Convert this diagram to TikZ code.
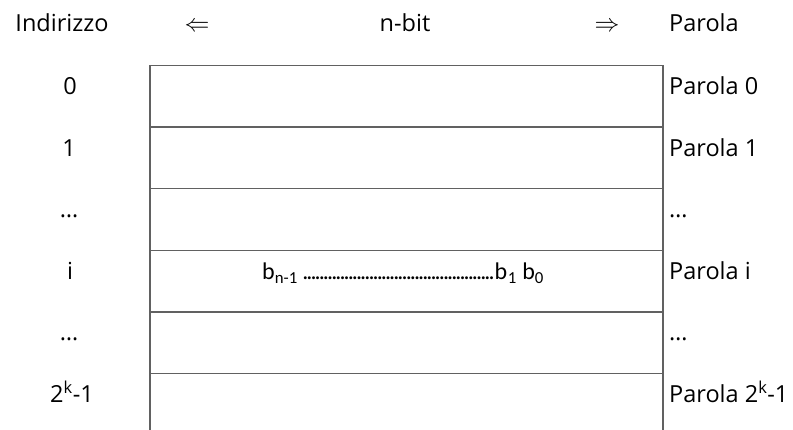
\documentclass[tikz,border=0pt]{standalone}
\usepackage{fontspec}
\setmainfont{Open Sans}
\newfontfamily\carlito{Carlito}
\tikzset{
  grid/.style={draw=black!62, line width=1.2pt},
  lbl/.style={font=\fontsize{23.5}{26}\selectfont, inner sep=0pt, anchor=base},
  rlbl/.style={lbl, anchor=base west},
}
\newcommand{\dotrun}[1]{\hbox to #1{\leaders\hbox to 4.15pt{\hss.\hss}\hfill}}
\begin{document}
\begin{tikzpicture}[x=1pt,y=-1pt]
\useasboundingbox[fill=white] (0,0) rectangle (793,430);
% grid
\draw[grid] (150,430) -- (150,65.5) -- (663,65.5) -- (663,430);
\foreach \yy in {127,188.5,250.5,312,373.5}
  \draw[grid] (150,\yy) -- (663,\yy);
% header
\node[lbl] (hind) at (62,32) {Indirizzo};
\node[lbl] (hla) at (197,32) {$\Leftarrow$};
\node[lbl] (hnb) at (405,32) {n-bit};
\node[lbl] (hra) at (607,32) {$\Rightarrow$};
\node[rlbl] (hpar) at (669,32) {Parola};
% left labels
\node[lbl] (a0) at (70,95) {0};
\node[lbl] (a1) at (69,156.5) {1};
\node[lbl] (a2) at (69,218) {…};
\node[lbl] (a3) at (70,279.5) {i};
\node[lbl] (a4) at (69,341) {…};
\node[lbl] (a5) at (72,402.5) {2\textsuperscript{k}-1};
% right labels
\node[rlbl] (p0) at (669,95) {Parola 0};
\node[rlbl] (p1) at (669,156.5) {Parola 1};
\node[rlbl] (p2) at (669,218) {…};
\node[rlbl] (p3) at (669,279.5) {Parola i};
\node[rlbl] (p4) at (669,341) {…};
\node[rlbl] (p5) at (669,402.5) {Parola 2\textsuperscript{k}-1};
% bits
\node[inner sep=0pt, anchor=base west, font=\carlito\fontsize{24}{27}\selectfont] (bits) at (262,279.5)
  {b\textsubscript{n-1} \dotrun{192pt}b\textsubscript{1} b\textsubscript{0}};
\end{tikzpicture}
\end{document}
